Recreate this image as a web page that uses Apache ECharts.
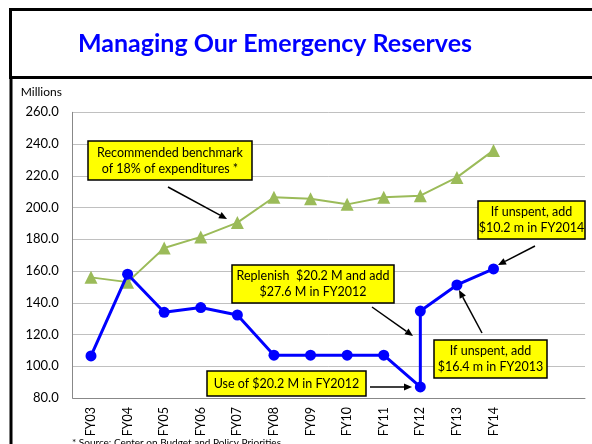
<!DOCTYPE html>
<html>
<head>
<meta charset="utf-8">
<script src="https://cdn.jsdelivr.net/npm/echarts@6/dist/echarts.min.js"></script>
<style>
  html, body { margin: 0; padding: 0; background: #fff; }
  #chart { width: 592px; height: 444px; }
</style>
</head>
<body>
<div id="chart"></div>
<script>
// data
var years = ['FY03', 'FY04', 'FY05', 'FY06', 'FY07', 'FY08', 'FY09', 'FY10', 'FY11', 'FY12', 'FY13', 'FY14', '', ''];
var benchmark = [156, 153, 174.5, 181.5, 190.5, 206.5, 205.5, 202, 206.5, 207.5, 219, 236];
// reserve balance, FY12 has two values (after use, after replenish)
var reserveIdx = [0, 1, 2, 3, 4, 5, 6, 7, 8, 9, 9, 10, 11];
var reserveVal = [106.5, 158, 134, 137, 132.3, 107, 107, 107, 107, 87, 134.8, 151.2, 161.3];
var yTicks = { min: 80, max: 260, interval: 20 };

var font = 'Lato, "Open Sans", sans-serif';

var reserveData = reserveIdx.map(function (x, i) { return [x, reserveVal[i]]; });

var chart = echarts.init(document.getElementById('chart'));

// yellow note box
function note(x, y, w, h, text) {
  return {
    type: 'group',
    x: x, y: y, z: 100,
    children: [
      { type: 'rect', z: 100, shape: { x: 0, y: 0, width: w, height: h },
        style: { fill: '#ffff00', stroke: '#000', lineWidth: 1.5 } },
      { type: 'text', z: 101, x: w / 2, y: h / 2,
        style: { text: text, fill: '#000', font: '12.5px ' + font, align: 'center',
                 verticalAlign: 'middle', lineHeight: 16 } }
    ]
  };
}

// arrow from (x1,y1) to (x2,y2)
function arrow(x1, y1, x2, y2) {
  var a = Math.atan2(y2 - y1, x2 - x1), L = 8, W = 3.5;
  var bx = x2 - L * Math.cos(a), by = y2 - L * Math.sin(a);
  return {
    type: 'group', z: 100,
    children: [
      { type: 'line', z: 100, shape: { x1: x1, y1: y1, x2: bx, y2: by }, style: { stroke: '#000', lineWidth: 1.5 } },
      { type: 'polygon', z: 100, shape: { points: [[x2, y2],
          [bx + W * Math.sin(a), by - W * Math.cos(a)],
          [bx - W * Math.sin(a), by + W * Math.cos(a)]] },
        style: { fill: '#000' } }
    ]
  };
}

chart.setOption({
  animation: false,
  backgroundColor: '#fff',
  title: {
    text: 'Managing Our Emergency Reserves',
    left: 270, top: 26, textAlign: 'center',
    textStyle: { color: '#0000ff', fontSize: 25, fontWeight: 'bold', fontFamily: font }
  },
  grid: { left: 72.7, right: 7, top: 112.3, bottom: 46 },
  xAxis: {
    type: 'category',
    data: years,
    boundaryGap: true,
    axisLine: { lineStyle: { color: '#888', width: 1 } },
    axisTick: { show: false },
    axisLabel: { rotate: 90, margin: 9, color: '#000', fontSize: 12.5, fontFamily: font, interval: 0 }
  },
  yAxis: {
    type: 'value',
    name: 'Millions',
    nameLocation: 'end',
    nameGap: 14,
    nameTextStyle: { color: '#000', fontSize: 12, fontFamily: font, align: 'left', padding: [0, 0, 0, -52] },
    min: yTicks.min, max: yTicks.max, interval: yTicks.interval,
    axisLine: { show: true, lineStyle: { color: '#888' } },
    axisTick: { show: false },
    axisLabel: { margin: 14, color: '#000', fontSize: 13, fontFamily: font,
      formatter: function (v) { return v.toFixed(1); } },
    splitLine: { lineStyle: { color: '#c0c0c0', width: 1 } }
  },
  series: [
    {
      name: 'Benchmark',
      type: 'line',
      data: benchmark,
      symbol: 'triangle',
      symbolSize: 13,
      itemStyle: { color: '#9bbb59' },
      lineStyle: { color: '#9bbb59', width: 2 },
      z: 2
    },
    {
      name: 'Reserves',
      type: 'line',
      data: reserveData,
      symbol: 'circle',
      symbolSize: 11,
      itemStyle: { color: '#0000ff' },
      lineStyle: { color: '#0000ff', width: 3 },
      z: 3
    }
  ],
  graphic: [
    // frame
    { type: 'rect', z: 100, shape: { x: 10.5, y: 9.5, width: 600, height: 68 },
      style: { fill: null, stroke: '#000', lineWidth: 3 } },
    { type: 'line', z: 100, shape: { x1: 11, y1: 78, x2: 11, y2: 444 },
      style: { stroke: '#000', lineWidth: 3 } },
    { type: 'text', z: 100, x: 72, y: 438,
      style: { text: '* Source: Center on Budget and Policy Priorities', fill: '#000',
               font: '10px ' + font } },
    // notes
    note(88, 141, 164, 39, 'Recommended benchmark\nof 18% of expenditures *'),
    arrow(168, 187, 227, 219),
    note(478, 201, 107, 38, 'If unspent, add\n$10.2 m in FY2014'),
    arrow(535, 246, 498, 265),
    note(232, 265, 162, 38, 'Replenish  $20.2 M and add\n$27.6 M in FY2012'),
    arrow(372, 307, 413, 336),
    note(207, 371, 159, 25, 'Use of $20.2 M in FY2012'),
    arrow(370, 387, 412, 387),
    note(434, 340, 113, 38, 'If unspent, add\n$16.4 m in FY2013'),
    arrow(482, 333, 459, 290)
  ]
});
</script>
</body>
</html>
